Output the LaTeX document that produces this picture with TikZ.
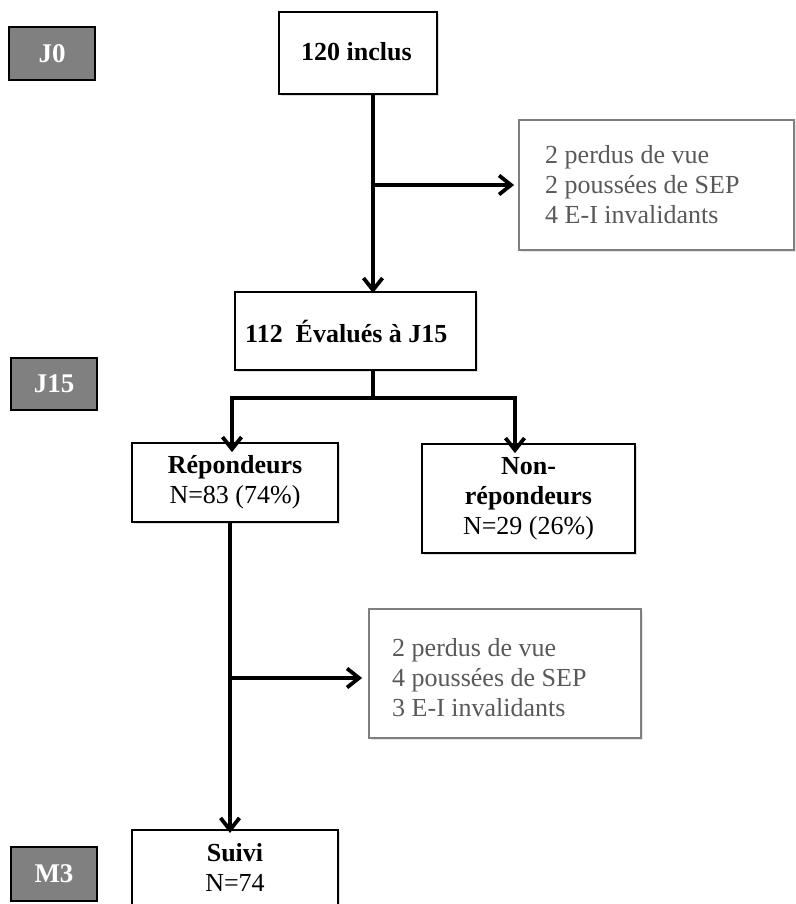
\documentclass[tikz,border=0pt]{standalone}
\usepackage{fontspec}
\setmainfont{Liberation Serif}
\usetikzlibrary{arrows.meta,shadows,calc}
\definecolor{phasegray}{HTML}{808080}
\definecolor{sidetext}{HTML}{595959}
\definecolor{sideline}{HTML}{7F7F7F}
\begin{document}
\begin{tikzpicture}[x=1pt,y=-1pt,
  every node/.style={font=\fontsize{26}{30}\selectfont},
  phase/.style={draw=black,line width=1.4pt,fill=phasegray,text=white,font=\fontsize{27}{30}\selectfont\bfseries,inner sep=0pt},
  mainbox/.style={draw=black,line width=1.8pt,fill=white,inner sep=0pt,align=center,
     drop shadow={opacity=0.25,shadow xshift=2pt,shadow yshift=-2pt}},
  sidebox/.style={draw=sideline,line width=1.8pt,fill=white,inner sep=0pt,text=sidetext,
     drop shadow={opacity=0.2,shadow xshift=2pt,shadow yshift=-2pt}},
  conn/.style={line width=3.6pt,black},
  arr/.style={conn,-{Straight Barb[length=12pt,width=19pt,line width=3.8pt]}}
]
\useasboundingbox (0,0) rectangle (795,904);

% phase labels
\node[phase,minimum width=86pt,minimum height=53pt] (j0) at (52,53.5) {J0};
\node[phase,minimum width=86pt,minimum height=52pt] (j15) at (54,384) {J15};
\node[phase,minimum width=86pt,minimum height=54pt] (m3) at (54,874) {M3};

% main boxes
\node[mainbox,minimum width=158pt,minimum height=82pt] (inclus) at (358,53) {};
\node[font=\fontsize{26}{30}\selectfont\bfseries,anchor=west,inner sep=0pt] (inclustxt) at (301,52) {120 inclus};

\node[mainbox,minimum width=241pt,minimum height=78pt] (eval) at (355.5,331) {};
\node[font=\fontsize{26}{30}\selectfont\bfseries,anchor=west,inner sep=0pt] (evaltxt) at (245,332) {112\ \ Évalués à J15};

\node[mainbox,minimum width=206pt,minimum height=79pt] (rep) at (235,482.5)
  {\textbf{Répondeurs}\\N=83 (74\%)};
\node[mainbox,minimum width=213pt,minimum height=109pt] (nonrep) at (528.5,498.5)
  {\textbf{Non-}\\\textbf{répondeurs}\\N=29 (26\%)};
\node[mainbox,minimum width=206pt,minimum height=84pt,anchor=north] (suivi) at (235,829)
  {};
\node[align=center,inner sep=0pt] (suivitxt) at (235,867) {\textbf{Suivi}\\N=74};

% side boxes
\node[sidebox,minimum width=275pt,minimum height=130pt] (side1) at (656.5,185) {};
\node[anchor=west,align=left,inner sep=0pt,text=sidetext] (side1txt) at (545,185)
  {2 perdus de vue\\2 poussées de SEP\\4 E-I invalidants};
\node[sidebox,minimum width=272pt,minimum height=129pt] (side2) at (505,673.5) {};
\node[anchor=west,align=left,inner sep=0pt,text=sidetext] (side2txt) at (392,678)
  {2 perdus de vue\\4 poussées de SEP\\3 E-I invalidants};

% connectors
\coordinate (t1) at (373,185);
\coordinate (b1) at (373,398);
\coordinate (bl) at (232,398);
\coordinate (br) at (515,398);
\coordinate (t2) at (230,678);

\draw[arr] (inclus.south -| t1) -- ([yshift=-2pt]eval.north -| t1);
\draw[arr] (t1) -- ([xshift=-4pt]t1 -| side1.west);
\draw[conn] (eval.south -| b1) -- (b1);
\draw[conn,line cap=rect] (bl) -- (br);
\draw[arr] (bl) -- ([yshift=-10pt]rep.north -| bl);
\draw[arr] (br) -- ([yshift=-10pt]nonrep.north -| br);
\draw[arr] (rep.south -| t2) -- ([yshift=-4pt]suivi.north -| t2);
\draw[arr] (t2) -- ([xshift=-6pt]t2 -| side2.west);
\end{tikzpicture}
\end{document}
